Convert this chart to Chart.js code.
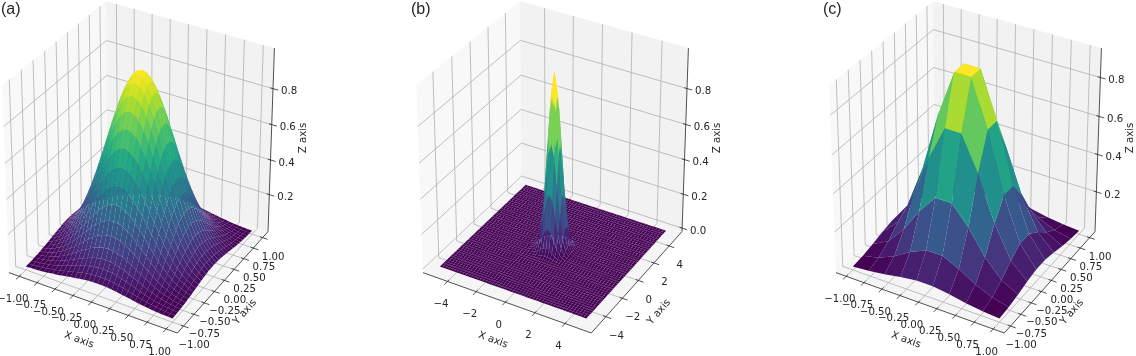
<!DOCTYPE html>
<html>
<head>
<meta charset="utf-8">
<script src="https://cdn.jsdelivr.net/npm/chart.js@4"></script>
<style>
    html, body { margin: 0; padding: 0; background: #fff; }
    #page { position: relative; width: 1136px; height: 356px; overflow: hidden; }
    canvas { position: absolute; top: 0; }
</style>
</head>
<body>
<div id="page"></div>
<script>
// Surface heights, rows run along Y and columns along X
const axisA = [-1, -0.9375, -0.875, -0.8125, -0.75, -0.6875, -0.625, -0.5625, -0.5, -0.4375, -0.375, -0.3125, -0.25, -0.1875, -0.125, -0.0625, 0, 0.0625, 0.125, 0.1875, 0.25, 0.3125, 0.375, 0.4375, 0.5, 0.5625, 0.625, 0.6875, 0.75, 0.8125, 0.875, 0.9375, 1];
const surfaceA = [
    [.003,.004,.005,.007,.009,.012,.016,.019,.024,.028,.033,.037,.041,.045,.048,.049,.050,.049,.048,.045,.041,.037,.033,.028,.024,.019,.016,.012,.009,.007,.005,.004,.003],
    [.004,.005,.007,.010,.013,.017,.022,.028,.034,.041,.047,.054,.060,.065,.069,.071,.072,.071,.069,.065,.060,.054,.047,.041,.034,.028,.022,.017,.013,.010,.007,.005,.004],
    [.005,.007,.010,.014,.019,.024,.031,.039,.048,.057,.066,.075,.084,.091,.096,.100,.101,.100,.096,.091,.084,.075,.066,.057,.048,.039,.031,.024,.019,.014,.010,.007,.005],
    [.007,.010,.014,.019,.026,.033,.043,.053,.065,.078,.091,.103,.114,.124,.132,.136,.138,.136,.132,.124,.114,.103,.091,.078,.065,.053,.043,.033,.026,.019,.014,.010,.007],
    [.009,.013,.019,.026,.034,.045,.057,.072,.087,.104,.121,.138,.153,.167,.176,.183,.185,.183,.176,.167,.153,.138,.121,.104,.087,.072,.057,.045,.034,.026,.019,.013,.009],
    [.012,.017,.024,.033,.045,.059,.075,.094,.114,.136,.159,.181,.201,.218,.231,.239,.242,.239,.231,.218,.201,.181,.159,.136,.114,.094,.075,.059,.045,.033,.024,.017,.012],
    [.016,.022,.031,.043,.057,.075,.096,.120,.146,.175,.203,.231,.257,.279,.296,.306,.310,.306,.296,.279,.257,.231,.203,.175,.146,.120,.096,.075,.057,.043,.031,.022,.016],
    [.019,.028,.039,.053,.072,.094,.120,.150,.183,.218,.254,.289,.321,.348,.369,.382,.387,.382,.369,.348,.321,.289,.254,.218,.183,.150,.120,.094,.072,.053,.039,.028,.019],
    [.024,.034,.048,.065,.087,.114,.146,.183,.223,.266,.310,.352,.391,.425,.450,.466,.472,.466,.450,.425,.391,.352,.310,.266,.223,.183,.146,.114,.087,.065,.048,.034,.024],
    [.028,.041,.057,.078,.104,.136,.175,.218,.266,.317,.369,.420,.467,.507,.537,.556,.563,.556,.537,.507,.467,.420,.369,.317,.266,.218,.175,.136,.104,.078,.057,.041,.028],
    [.033,.047,.066,.091,.121,.159,.203,.254,.310,.369,.430,.489,.544,.590,.626,.648,.656,.648,.626,.590,.544,.489,.430,.369,.310,.254,.203,.159,.121,.091,.066,.047,.033],
    [.037,.054,.075,.103,.138,.181,.231,.289,.352,.420,.489,.557,.618,.671,.712,.737,.746,.737,.712,.671,.618,.557,.489,.420,.352,.289,.231,.181,.138,.103,.075,.054,.037],
    [.041,.060,.084,.114,.153,.201,.257,.321,.391,.467,.544,.618,.687,.746,.791,.819,.829,.819,.791,.746,.687,.618,.544,.467,.391,.321,.257,.201,.153,.114,.084,.060,.041],
    [.045,.065,.091,.124,.167,.218,.279,.348,.425,.507,.590,.671,.746,.810,.859,.889,.900,.889,.859,.810,.746,.671,.590,.507,.425,.348,.279,.218,.167,.124,.091,.065,.045],
    [.048,.069,.096,.132,.176,.231,.296,.369,.450,.537,.626,.712,.791,.859,.910,.943,.954,.943,.910,.859,.791,.712,.626,.537,.450,.369,.296,.231,.176,.132,.096,.069,.048],
    [.049,.071,.100,.136,.183,.239,.306,.382,.466,.556,.648,.737,.819,.889,.943,.976,.988,.976,.943,.889,.819,.737,.648,.556,.466,.382,.306,.239,.183,.136,.100,.071,.049],
    [.050,.072,.101,.138,.185,.242,.310,.387,.472,.563,.656,.746,.829,.900,.954,.988,1.00,.988,.954,.900,.829,.746,.656,.563,.472,.387,.310,.242,.185,.138,.101,.072,.050],
    [.049,.071,.100,.136,.183,.239,.306,.382,.466,.556,.648,.737,.819,.889,.943,.976,.988,.976,.943,.889,.819,.737,.648,.556,.466,.382,.306,.239,.183,.136,.100,.071,.049],
    [.048,.069,.096,.132,.176,.231,.296,.369,.450,.537,.626,.712,.791,.859,.910,.943,.954,.943,.910,.859,.791,.712,.626,.537,.450,.369,.296,.231,.176,.132,.096,.069,.048],
    [.045,.065,.091,.124,.167,.218,.279,.348,.425,.507,.590,.671,.746,.810,.859,.889,.900,.889,.859,.810,.746,.671,.590,.507,.425,.348,.279,.218,.167,.124,.091,.065,.045],
    [.041,.060,.084,.114,.153,.201,.257,.321,.391,.467,.544,.618,.687,.746,.791,.819,.829,.819,.791,.746,.687,.618,.544,.467,.391,.321,.257,.201,.153,.114,.084,.060,.041],
    [.037,.054,.075,.103,.138,.181,.231,.289,.352,.420,.489,.557,.618,.671,.712,.737,.746,.737,.712,.671,.618,.557,.489,.420,.352,.289,.231,.181,.138,.103,.075,.054,.037],
    [.033,.047,.066,.091,.121,.159,.203,.254,.310,.369,.430,.489,.544,.590,.626,.648,.656,.648,.626,.590,.544,.489,.430,.369,.310,.254,.203,.159,.121,.091,.066,.047,.033],
    [.028,.041,.057,.078,.104,.136,.175,.218,.266,.317,.369,.420,.467,.507,.537,.556,.563,.556,.537,.507,.467,.420,.369,.317,.266,.218,.175,.136,.104,.078,.057,.041,.028],
    [.024,.034,.048,.065,.087,.114,.146,.183,.223,.266,.310,.352,.391,.425,.450,.466,.472,.466,.450,.425,.391,.352,.310,.266,.223,.183,.146,.114,.087,.065,.048,.034,.024],
    [.019,.028,.039,.053,.072,.094,.120,.150,.183,.218,.254,.289,.321,.348,.369,.382,.387,.382,.369,.348,.321,.289,.254,.218,.183,.150,.120,.094,.072,.053,.039,.028,.019],
    [.016,.022,.031,.043,.057,.075,.096,.120,.146,.175,.203,.231,.257,.279,.296,.306,.310,.306,.296,.279,.257,.231,.203,.175,.146,.120,.096,.075,.057,.043,.031,.022,.016],
    [.012,.017,.024,.033,.045,.059,.075,.094,.114,.136,.159,.181,.201,.218,.231,.239,.242,.239,.231,.218,.201,.181,.159,.136,.114,.094,.075,.059,.045,.033,.024,.017,.012],
    [.009,.013,.019,.026,.034,.045,.057,.072,.087,.104,.121,.138,.153,.167,.176,.183,.185,.183,.176,.167,.153,.138,.121,.104,.087,.072,.057,.045,.034,.026,.019,.013,.009],
    [.007,.010,.014,.019,.026,.033,.043,.053,.065,.078,.091,.103,.114,.124,.132,.136,.138,.136,.132,.124,.114,.103,.091,.078,.065,.053,.043,.033,.026,.019,.014,.010,.007],
    [.005,.007,.010,.014,.019,.024,.031,.039,.048,.057,.066,.075,.084,.091,.096,.100,.101,.100,.096,.091,.084,.075,.066,.057,.048,.039,.031,.024,.019,.014,.010,.007,.005],
    [.004,.005,.007,.010,.013,.017,.022,.028,.034,.041,.047,.054,.060,.065,.069,.071,.072,.071,.069,.065,.060,.054,.047,.041,.034,.028,.022,.017,.013,.010,.007,.005,.004],
    [.003,.004,.005,.007,.009,.012,.016,.019,.024,.028,.033,.037,.041,.045,.048,.049,.050,.049,.048,.045,.041,.037,.033,.028,.024,.019,.016,.012,.009,.007,.005,.004,.003]
];

// Panel (b) is flat outside the middle of the grid, only the peak is listed
const axisB = [-5, -4.8, -4.6, -4.4, -4.2, -4, -3.8, -3.6, -3.4, -3.2, -3, -2.8, -2.6, -2.4, -2.2, -2, -1.8, -1.6, -1.4, -1.2, -1, -0.8, -0.6, -0.4, -0.2, 0, 0.2, 0.4, 0.6, 0.8, 1, 1.2, 1.4, 1.6, 1.8, 2, 2.2, 2.4, 2.6, 2.8, 3, 3.2, 3.4, 3.6, 3.8, 4, 4.2, 4.4, 4.6, 4.8, 5];
const floorB = 0;
const peakStartB = 18;
const peakB = [
    [0,0,0,0,.001,.002,.003,.003,.003,.002,.001,0,0,0,0],
    [0,0,.001,.002,.004,.008,.012,.013,.012,.008,.004,.002,.001,0,0],
    [0,.001,.003,.007,.017,.031,.044,.050,.044,.031,.017,.007,.003,.001,0],
    [0,.002,.007,.022,.050,.091,.130,.147,.130,.091,.050,.022,.007,.002,0],
    [.001,.004,.017,.050,.116,.210,.302,.340,.302,.210,.116,.050,.017,.004,.001],
    [.002,.008,.031,.091,.210,.383,.549,.619,.549,.383,.210,.091,.031,.008,.002],
    [.003,.012,.044,.130,.302,.549,.787,.887,.787,.549,.302,.130,.044,.012,.003],
    [.003,.013,.050,.147,.340,.619,.887,1.00,.887,.619,.340,.147,.050,.013,.003],
    [.003,.012,.044,.130,.302,.549,.787,.887,.787,.549,.302,.130,.044,.012,.003],
    [.002,.008,.031,.091,.210,.383,.549,.619,.549,.383,.210,.091,.031,.008,.002],
    [.001,.004,.017,.050,.116,.210,.302,.340,.302,.210,.116,.050,.017,.004,.001],
    [0,.002,.007,.022,.050,.091,.130,.147,.130,.091,.050,.022,.007,.002,0],
    [0,.001,.003,.007,.017,.031,.044,.050,.044,.031,.017,.007,.003,.001,0],
    [0,0,.001,.002,.004,.008,.012,.013,.012,.008,.004,.002,.001,0,0],
    [0,0,0,0,.001,.002,.003,.003,.003,.002,.001,0,0,0,0]
];

const axisC = [-1, -0.778, -0.556, -0.333, -0.111, 0.111, 0.333, 0.556, 0.778, 1];
const surfaceC = [
    [.002,.008,.020,.036,.048,.048,.036,.020,.008,.002],
    [.008,.027,.065,.117,.157,.157,.117,.065,.027,.008],
    [.020,.065,.157,.284,.382,.382,.284,.157,.065,.020],
    [.036,.117,.284,.514,.691,.691,.514,.284,.117,.036],
    [.048,.157,.382,.691,.929,.929,.691,.382,.157,.048],
    [.048,.157,.382,.691,.929,.929,.691,.382,.157,.048],
    [.036,.117,.284,.514,.691,.691,.514,.284,.117,.036],
    [.020,.065,.157,.284,.382,.382,.284,.157,.065,.020],
    [.008,.027,.065,.117,.157,.157,.117,.065,.027,.008],
    [.002,.008,.020,.036,.048,.048,.036,.020,.008,.002]
];

// Tick values and their labels
const unitTicks = [-1, -0.75, -0.5, -0.25, 0, 0.25, 0.5, 0.75, 1];
const unitTickLabels = ['\u22121.00', '\u22120.75', '\u22120.50', '\u22120.25', '0.00', '0.25', '0.50', '0.75', '1.00'];
const wideTicks = [-4, -2, 0, 2, 4];
const wideTickLabels = ['\u22124', '\u22122', '0', '2', '4'];
const zTicks = [0.2, 0.4, 0.6, 0.8];
const zTickLabels = ['0.2', '0.4', '0.6', '0.8'];
const zTicksB = [0, 0.2, 0.4, 0.6, 0.8];
const zTickLabelsB = ['0.0', '0.2', '0.4', '0.6', '0.8'];

const viridis = ['#440154', '#482475', '#414487', '#355f8d', '#2a788e', '#21918c', '#22a884', '#44bf70', '#7ad151', '#bddf26', '#fde725'];

// Camera and page placement
const ELEV = 30 * Math.PI / 180;
const AZIM = -60 * Math.PI / 180;
const DIST = 10;
const PAD = 16;
const CANVAS_W = 421;
const CANVAS_H = 356;
const CENTER_X = 140.5 + PAD;
const CENTER_Y = 161.4;
const SCALE_X = 194.3;
const SCALE_Y = 214;
const TEXT_FONT = '10.2px "DejaVu Sans"';
const TEXT_COLOR = '#262626';

function expandPeak() {
    return axisB.map((_, r) => axisB.map((_, c) => {
        const pr = r - peakStartB, pc = c - peakStartB;
        return peakB[pr] && peakB[pr][pc] !== undefined ? peakB[pr][pc] : floorB;
    }));
}

function viridisColor(t) {
    const pos = Math.min(Math.max(t, 0), 1) * (viridis.length - 1);
    const i = Math.min(Math.floor(pos), viridis.length - 2);
    const f = pos - i;
    const hex = s => [1, 3, 5].map(k => parseInt(s.substr(k, 2), 16));
    const a = hex(viridis[i]), b = hex(viridis[i + 1]);
    return `rgb(${a.map((v, k) => Math.round(v + (b[k] - v) * f)).join(',')})`;
}

// Perspective view of a point in the unit cube
function viewPoint(wx, wy, wz) {
    const px = wx - 0.5, py = wy - 0.5, pz = wz - 0.5;
    const u = -Math.sin(AZIM) * px + Math.cos(AZIM) * py;
    const v = -Math.sin(ELEV) * Math.cos(AZIM) * px - Math.sin(ELEV) * Math.sin(AZIM) * py + Math.cos(ELEV) * pz;
    const n = Math.cos(ELEV) * Math.cos(AZIM) * px + Math.cos(ELEV) * Math.sin(AZIM) * py + Math.sin(ELEV) * pz;
    const depth = DIST - n;
    return { x: u * DIST / depth, y: v * DIST / depth, depth };
}

function buildPanel(panel) {
    const zFlat = panel.z.flat();
    const zMin = Math.min(...zFlat), zMax = Math.max(...zFlat);
    const xMin = panel.axis[0], xMax = panel.axis[panel.axis.length - 1];
    const span = xMax - xMin;
    // data limits get a 5% margin, the panes a further 1/48
    const lo = xMin - span * 0.05 - span * 1.1 / 48;
    const hi = xMax + span * 0.05 + span * 1.1 / 48;
    const zLo = zMin - (zMax - zMin) / 48;
    const zHi = zMax + (zMax - zMin) / 48;

    const project = (x, y, z) => viewPoint((x - lo) / (hi - lo), (y - lo) / (hi - lo), (z - zLo) / (zHi - zLo));
    const lineSet = (pts, color, width) => ({ data: pts, showLine: true, fill: false, borderColor: color, borderWidth: width, pointRadius: 0 });
    const fillSet = (pts, color) => ({ data: pts, showLine: true, fill: 'shape', backgroundColor: color, borderWidth: 0, pointRadius: 0 });

    const sets = [];

    // Panes
    sets.push(fillSet([project(lo, lo, zLo), project(lo, hi, zLo), project(lo, hi, zHi), project(lo, lo, zHi)], 'rgba(242,242,242,0.5)'));
    sets.push(fillSet([project(lo, hi, zLo), project(hi, hi, zLo), project(hi, hi, zHi), project(lo, hi, zHi)], 'rgba(230,230,230,0.5)'));
    sets.push(fillSet([project(lo, lo, zLo), project(hi, lo, zLo), project(hi, hi, zLo), project(lo, hi, zLo)], 'rgba(236,236,236,0.5)'));

    // Grid lines on floor and walls
    panel.ticks.forEach(t => {
        sets.push(lineSet([project(t, lo, zLo), project(t, hi, zLo), project(t, hi, zHi)], '#b0b0b0', 0.8));
        sets.push(lineSet([project(hi, t, zLo), project(lo, t, zLo), project(lo, t, zHi)], '#b0b0b0', 0.8));
    });
    panel.zTicks.forEach(t => {
        sets.push(lineSet([project(lo, lo, t), project(lo, hi, t), project(hi, hi, t)], '#b0b0b0', 0.8));
    });

    // Axis edges and tick marks
    const tickOut = (hi - lo) * 0.03, tickIn = (hi - lo) * 0.016;
    sets.push(lineSet([project(lo, lo, zLo), project(hi, lo, zLo)], '#262626', 0.8));
    sets.push(lineSet([project(hi, lo, zLo), project(hi, hi, zLo)], '#262626', 0.8));
    sets.push(lineSet([project(hi, hi, zLo), project(hi, hi, zHi)], '#262626', 0.8));
    panel.ticks.forEach(t => {
        sets.push(lineSet([project(t, lo - tickOut, zLo), project(t, lo + tickIn, zLo)], '#262626', 0.8));
        sets.push(lineSet([project(hi + tickOut, t, zLo), project(hi - tickIn, t, zLo)], '#262626', 0.8));
    });
    panel.zTicks.forEach(t => {
        sets.push(lineSet([project(hi + tickOut, hi, t), project(hi - tickIn, hi, t)], '#262626', 0.8));
    });

    // Surface cells, coloured by mean height and painted far to near
    const cells = [];
    for (let r = 0; r < panel.z.length - 1; r++) {
        for (let c = 0; c < panel.z.length - 1; c++) {
            const corners = [[c, r], [c + 1, r], [c + 1, r + 1], [c, r + 1]];
            const heights = corners.map(([i, j]) => panel.z[j][i]);
            const pts = corners.map(([i, j]) => project(panel.axis[i], panel.axis[j], panel.z[j][i]));
            cells.push({
                pts,
                mean: heights.reduce((a, b) => a + b, 0) / 4,
                depth: pts.reduce((a, p) => a + p.depth, 0) / 4
            });
        }
    }
    const means = cells.map(cell => cell.mean);
    const meanMin = Math.min(...means), meanMax = Math.max(...means);
    cells.sort((a, b) => b.depth - a.depth);
    cells.forEach(cell => {
        sets.push(fillSet(cell.pts, viridisColor((cell.mean - meanMin) / (meanMax - meanMin))));
    });

    // Chart.js paints the first dataset last
    sets.reverse();

    // Tick labels and titles
    const textPlugin = {
        id: 'panelText',
        afterDraw(chart) {
            const ctx = chart.ctx;
            const sx = chart.scales.x, sy = chart.scales.y;
            const put = (text, x, y, angle, font) => {
                ctx.save();
                ctx.translate(x, y);
                ctx.rotate(angle * Math.PI / 180);
                ctx.font = font || TEXT_FONT;
                ctx.fillStyle = TEXT_COLOR;
                ctx.textAlign = 'center';
                ctx.textBaseline = 'middle';
                ctx.fillText(text, 0, 0);
                ctx.restore();
            };
            const atPoint = (p, dx, dy) => [sx.getPixelForValue(p.x) + dx, sy.getPixelForValue(p.y) + dy];
            panel.ticks.forEach((t, i) => {
                const [x1, y1] = atPoint(project(t, lo, zLo), -6.5, 23);
                put(panel.tickLabels[i], x1, y1, 0);
                const [x2, y2] = atPoint(project(hi, t, zLo), 10.5, 19.5);
                put(panel.tickLabels[i], x2, y2, 0);
            });
            panel.zTicks.forEach((t, i) => {
                const [x, y] = atPoint(project(hi, hi, t), 16, 3);
                put(panel.zTickLabels[i], x, y, 0);
            });
            put('X axis', 79 + PAD, 340, 20);
            put('Y axis', 245 + PAD, 312, -49);
            put('Z axis', 303 + PAD, 138, -90);
            ctx.save();
            ctx.font = '16px "Liberation Sans"';
            ctx.fillStyle = TEXT_COLOR;
            ctx.textBaseline = 'alphabetic';
            ctx.fillText(panel.title, panel.titleX + PAD, 14);
            ctx.restore();
        }
    };

    const canvas = document.createElement('canvas');
    canvas.width = CANVAS_W;
    canvas.height = CANVAS_H;
    canvas.style.left = (panel.left - PAD) + 'px';
    document.getElementById('page').appendChild(canvas);

    new Chart(canvas.getContext('2d'), {
        type: 'scatter',
        data: { datasets: sets },
        options: {
            responsive: false,
            animation: false,
            devicePixelRatio: 1,
            events: [],
            layout: { padding: 0 },
            elements: { line: { tension: 0 } },
            plugins: { legend: { display: false }, tooltip: { enabled: false } },
            scales: {
                x: { type: 'linear', display: false, min: -CENTER_X / SCALE_X, max: (CANVAS_W - CENTER_X) / SCALE_X },
                y: { type: 'linear', display: false, min: (CENTER_Y - CANVAS_H) / SCALE_Y, max: CENTER_Y / SCALE_Y }
            }
        },
        plugins: [textPlugin]
    });
}

buildPanel({ title: '(a)', titleX: 1, left: 0, axis: axisA, z: surfaceA, ticks: unitTicks, tickLabels: unitTickLabels, zTicks: zTicks, zTickLabels: zTickLabels });
buildPanel({ title: '(b)', titleX: -3, left: 414, axis: axisB, z: expandPeak(), ticks: wideTicks, tickLabels: wideTickLabels, zTicks: zTicksB, zTickLabels: zTickLabelsB });
buildPanel({ title: '(c)', titleX: -4, left: 827, axis: axisC, z: surfaceC, ticks: unitTicks, tickLabels: unitTickLabels, zTicks: zTicks, zTickLabels: zTickLabels });
</script>
</body>
</html>
